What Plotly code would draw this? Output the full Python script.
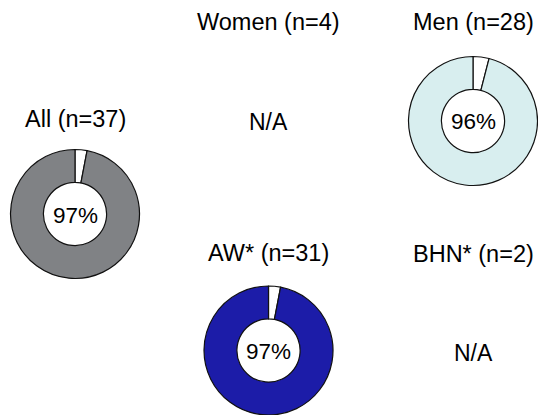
import plotly.graph_objects as go

W, H = 538, 415

groups = ["All", "Women", "Men", "AW*", "BHN*"]
counts = [37, 4, 28, 31, 2]
pct_yes = [97, None, 96, 97, None]          # None -> N/A
colors = ["#808285", None, "#d8eeef", "#1c1ca8", None]

# layout positions (pixel centres of each panel)
panel_cx = [75, 268, 473, 268.5, 473]
panel_cy = [214, 122, 121, 350.5, 353]
title_cy = [119, 22, 22, 253, 254]
radius = 64.5

fig = go.Figure()
annotations = []

def px(x):
    return x / W

def py(y):
    return 1 - y / H

FONT = "Liberation Sans, Arial"

for g, n, p, c, cx, cy, ty in zip(groups, counts, pct_yes, colors,
                                  panel_cx, panel_cy, title_cy):
    annotations.append(dict(text=f"{g} (n={n})", x=px(cx), y=py(ty),
                            xref="paper", yref="paper", showarrow=False,
                            xanchor="center", yanchor="middle",
                            font=dict(size=23.5, color="black", family=FONT)))
    if p is None:
        annotations.append(dict(text="N/A", x=px(cx), y=py(cy),
                                xref="paper", yref="paper", showarrow=False,
                                xanchor="center", yanchor="middle",
                                font=dict(size=23, color="black", family=FONT)))
        continue
    x0, x1 = (cx - radius) / W, (cx + radius) / W
    y0, y1 = max(0, py(cy + radius)), min(1, py(cy - radius))
    fig.add_trace(go.Pie(
        values=[100 - p, p],
        labels=["No", "Yes"],
        marker=dict(colors=["white", c], line=dict(color="#111111", width=1.2)),
        hole=0.49,
        sort=False,
        direction="clockwise",
        rotation=0,
        textinfo="none",
        hoverinfo="label+percent",
        showlegend=False,
        domain=dict(x=[x0, x1], y=[y0, y1]),
    ))
    annotations.append(dict(text=f"{p}%", x=px(cx), y=py(cy + 1),
                            xref="paper", yref="paper", showarrow=False,
                            xanchor="center", yanchor="middle",
                            font=dict(size=22.5, color="black", family=FONT)))

fig.update_layout(
    width=W, height=H,
    margin=dict(l=0, r=0, t=0, b=0),
    paper_bgcolor="white",
    plot_bgcolor="white",
    annotations=annotations,
    showlegend=False,
)

fig.write_html("out.html",
               config={"displayModeBar": False},
               post_script="document.body.style.margin='0';"
                           "document.body.style.overflow='hidden';")
